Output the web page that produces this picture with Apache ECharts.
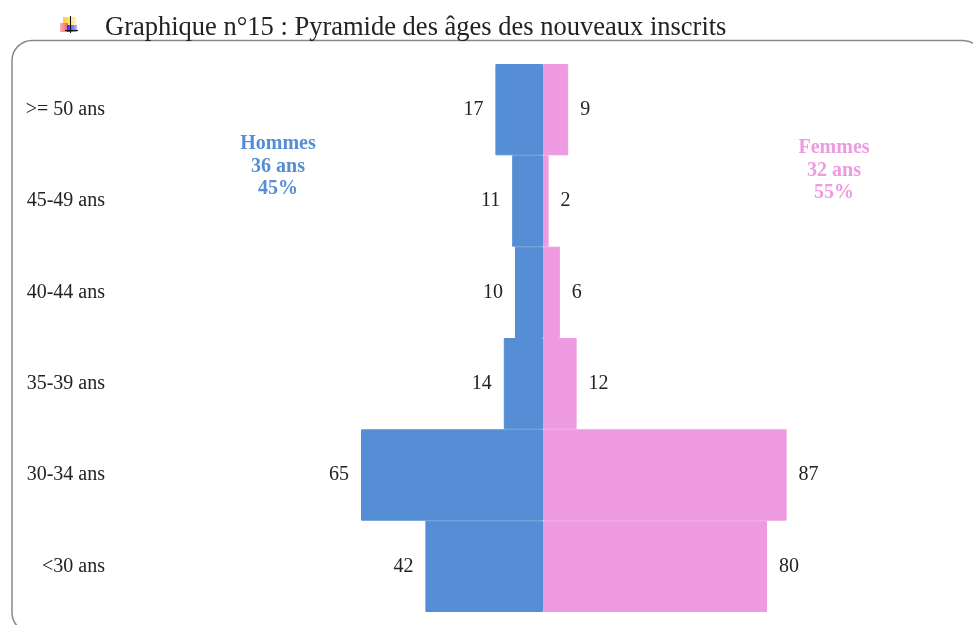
<!DOCTYPE html>
<html>
<head>
<meta charset="utf-8">
<style>
html, body { margin: 0; padding: 0; background: #fff; overflow: hidden; }
#main { width: 973px; height: 625px; }
</style>
<script src="https://cdn.jsdelivr.net/npm/echarts@6/dist/echarts.min.js"></script>
</head>
<body>
<div id="main"></div>
<script>
const categories = ['<30 ans', '30-34 ans', '35-39 ans', '40-44 ans', '45-49 ans', '>= 50 ans']
const hommes = [42, 65, 14, 10, 11, 17]
const femmes = [80, 87, 12, 6, 2, 9]
const hommesNote = ['Hommes', '36 ans', '45%']
const femmesNote = ['Femmes', '32 ans', '55%']
const titre = 'Graphique n°15 : Pyramide des âges des nouveaux inscrits'

const serif = '"Liberation Serif", serif'
const bleu = '#558ed5'
const rose = '#ee9ae0'

function abs(p) {
  return Math.abs(p.value)
}

function degrade(a, b) {
  return new echarts.graphic.LinearGradient(0, 0, 1, 0, [
    { offset: 0, color: a },
    { offset: 1, color: b }
  ])
}

const myChart = echarts.init(document.getElementById('main'), null, { renderer: 'canvas' })
myChart.setOption({
  animation: false,
  title: {
    text: titre,
    left: 105,
    top: 15,
    padding: 0,
    textStyle: { fontFamily: serif, fontSize: 26.5, fontWeight: 'normal', color: '#222' }
  },
  grid: { left: 123, right: 10, top: 64, bottom: 13 },
  xAxis: {
    type: 'value',
    min: -150,
    max: 150,
    show: false
  },
  yAxis: {
    type: 'category',
    data: categories,
    axisLine: { show: false },
    axisTick: { show: false },
    axisLabel: {
      margin: 18,
      fontFamily: serif,
      fontSize: 20,
      color: '#222',
      verticalAlign: 'middle',
      padding: [0, 0, 2, 0]
    }
  },
  series: [
    {
      name: 'Hommes',
      type: 'bar',
      stack: 'pyramide',
      barWidth: '100%',
      itemStyle: { color: bleu, borderColor: bleu, borderWidth: 1 },
      label: {
        show: true,
        position: 'left',
        distance: 12,
        formatter: abs,
        fontFamily: serif,
        fontSize: 20,
        color: '#222'
      },
      data: hommes.map(v => -v)
    },
    {
      name: 'Femmes',
      type: 'bar',
      stack: 'pyramide',
      barWidth: '100%',
      itemStyle: { color: rose, borderColor: rose, borderWidth: 1 },
      label: {
        show: true,
        position: 'right',
        distance: 12,
        formatter: abs,
        fontFamily: serif,
        fontSize: 20,
        color: '#222'
      },
      data: femmes
    }
  ],
  graphic: [
    // cadre arrondi, coupe par le bord de la page
    {
      type: 'rect',
      shape: { x: 12, y: 40.5, width: 971, height: 592, r: 20 },
      style: { fill: 'none', stroke: '#888', lineWidth: 1.5 },
      z: -1
    },
    // puce du titre
    { type: 'rect', shape: { x: 63, y: 17, width: 13, height: 10 }, style: { fill: degrade('#ffcc33', '#fff2b8') } },
    { type: 'rect', shape: { x: 60, y: 23, width: 8, height: 9 }, style: { fill: degrade('#ffb3b3', '#ff5a66') } },
    { type: 'rect', shape: { x: 67, y: 25, width: 10, height: 7 }, style: { fill: degrade('#2222ff', '#b8b8ff') } },
    { type: 'rect', shape: { x: 70, y: 16, width: 1, height: 17 }, style: { fill: '#111' } },
    { type: 'rect', shape: { x: 65, y: 30, width: 13, height: 1 }, style: { fill: '#111' } },
    {
      type: 'text',
      x: 278,
      y: 133,
      style: {
        text: hommesNote.join('\n'),
        align: 'center',
        fill: bleu,
        font: 'bold 20px ' + serif,
        lineHeight: 22.5
      }
    },
    {
      type: 'text',
      x: 834,
      y: 137,
      style: {
        text: femmesNote.join('\n'),
        align: 'center',
        fill: rose,
        font: 'bold 20px ' + serif,
        lineHeight: 22.5
      }
    }
  ]
})
</script>
</body>
</html>
